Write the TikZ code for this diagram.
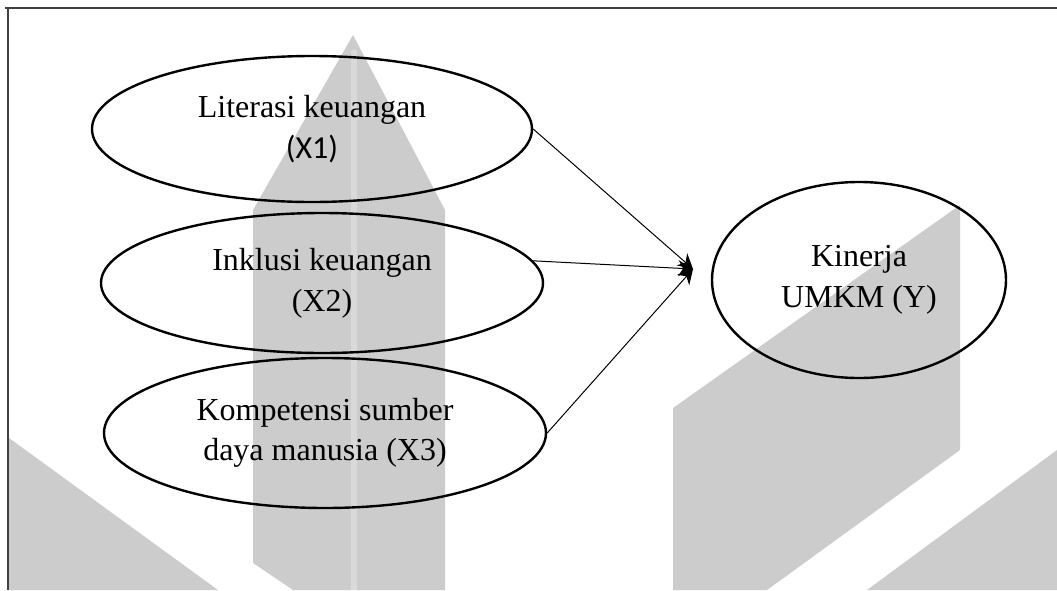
\documentclass[tikz,border=0pt]{standalone}
\usepackage{fontspec}
\setmainfont{Liberation Serif}
\newfontfamily\calibrifont{Carlito}
\usepackage{tikz}
\usetikzlibrary{shapes.geometric,arrows.meta}
\pgfdeclarelayer{myback}
\pgfsetlayers{myback,main}
\tikzset{varellipse/.style 2 args = {draw,ellipse,line width=1.8pt,inner sep=0pt,align=center,
  font=\fontsize{24}{30.5}\selectfont,minimum width=#1,minimum height=#2},
  conn/.style = {-{Stealth[length=11pt,width=12pt]},line width=0.75pt}}
\NewDocumentCommand{\fwatermark}{O{black!20} m}{%
\fill[#1] #2 -- cycle;
}

\begin{document}
\begin{tikzpicture}[x=0.75pt,y=-0.75pt]
\useasboundingbox (0,0) rectangle (1057,590);
\draw[black!75,line width=1.5pt] (8,590) -- (8,8) -- (5,8) -- (1057,8);

\node[varellipse={330pt}{109.5pt}] (lit) at (312,129) {Literasi keuangan\\{\calibrifont (X1)}};
\node[varellipse={331.5pt}{105pt}] (ink) at (322,283) {Inklusi keuangan\\(X2)};
\node[varellipse={331.5pt}{112.5pt}] (kom) at (325,433) {Kompetensi sumber\\daya manusia (X3)};
\node[varellipse={220.5pt}{147pt}] (kin) at (859,280) {Kinerja\\UMKM (Y)};

\coordinate (hub) at (693,269);
\draw[conn] (lit.east) -- (hub);
\draw[conn] (ink.6) -- (hub);
\draw[conn] (kom.east) -- (hub);

\begin{pgfonlayer}{myback}
\fwatermark{(353,35) -- (445,210) -- (445,590) -- (293,590) -- (253,563) -- (253,210)}
\fwatermark[black!15]{(351,50) -- (357,50) -- (357,590) -- (351,590)}
\fwatermark{(9,438) -- (218,590) -- (9,590)}
\fwatermark{(673,408) -- (960,205) -- (960,450) -- (767,590) -- (673,590)}
\fwatermark{(867,590) -- (1057,450) -- (1057,590)}
\end{pgfonlayer}
\end{tikzpicture}
\end{document}
